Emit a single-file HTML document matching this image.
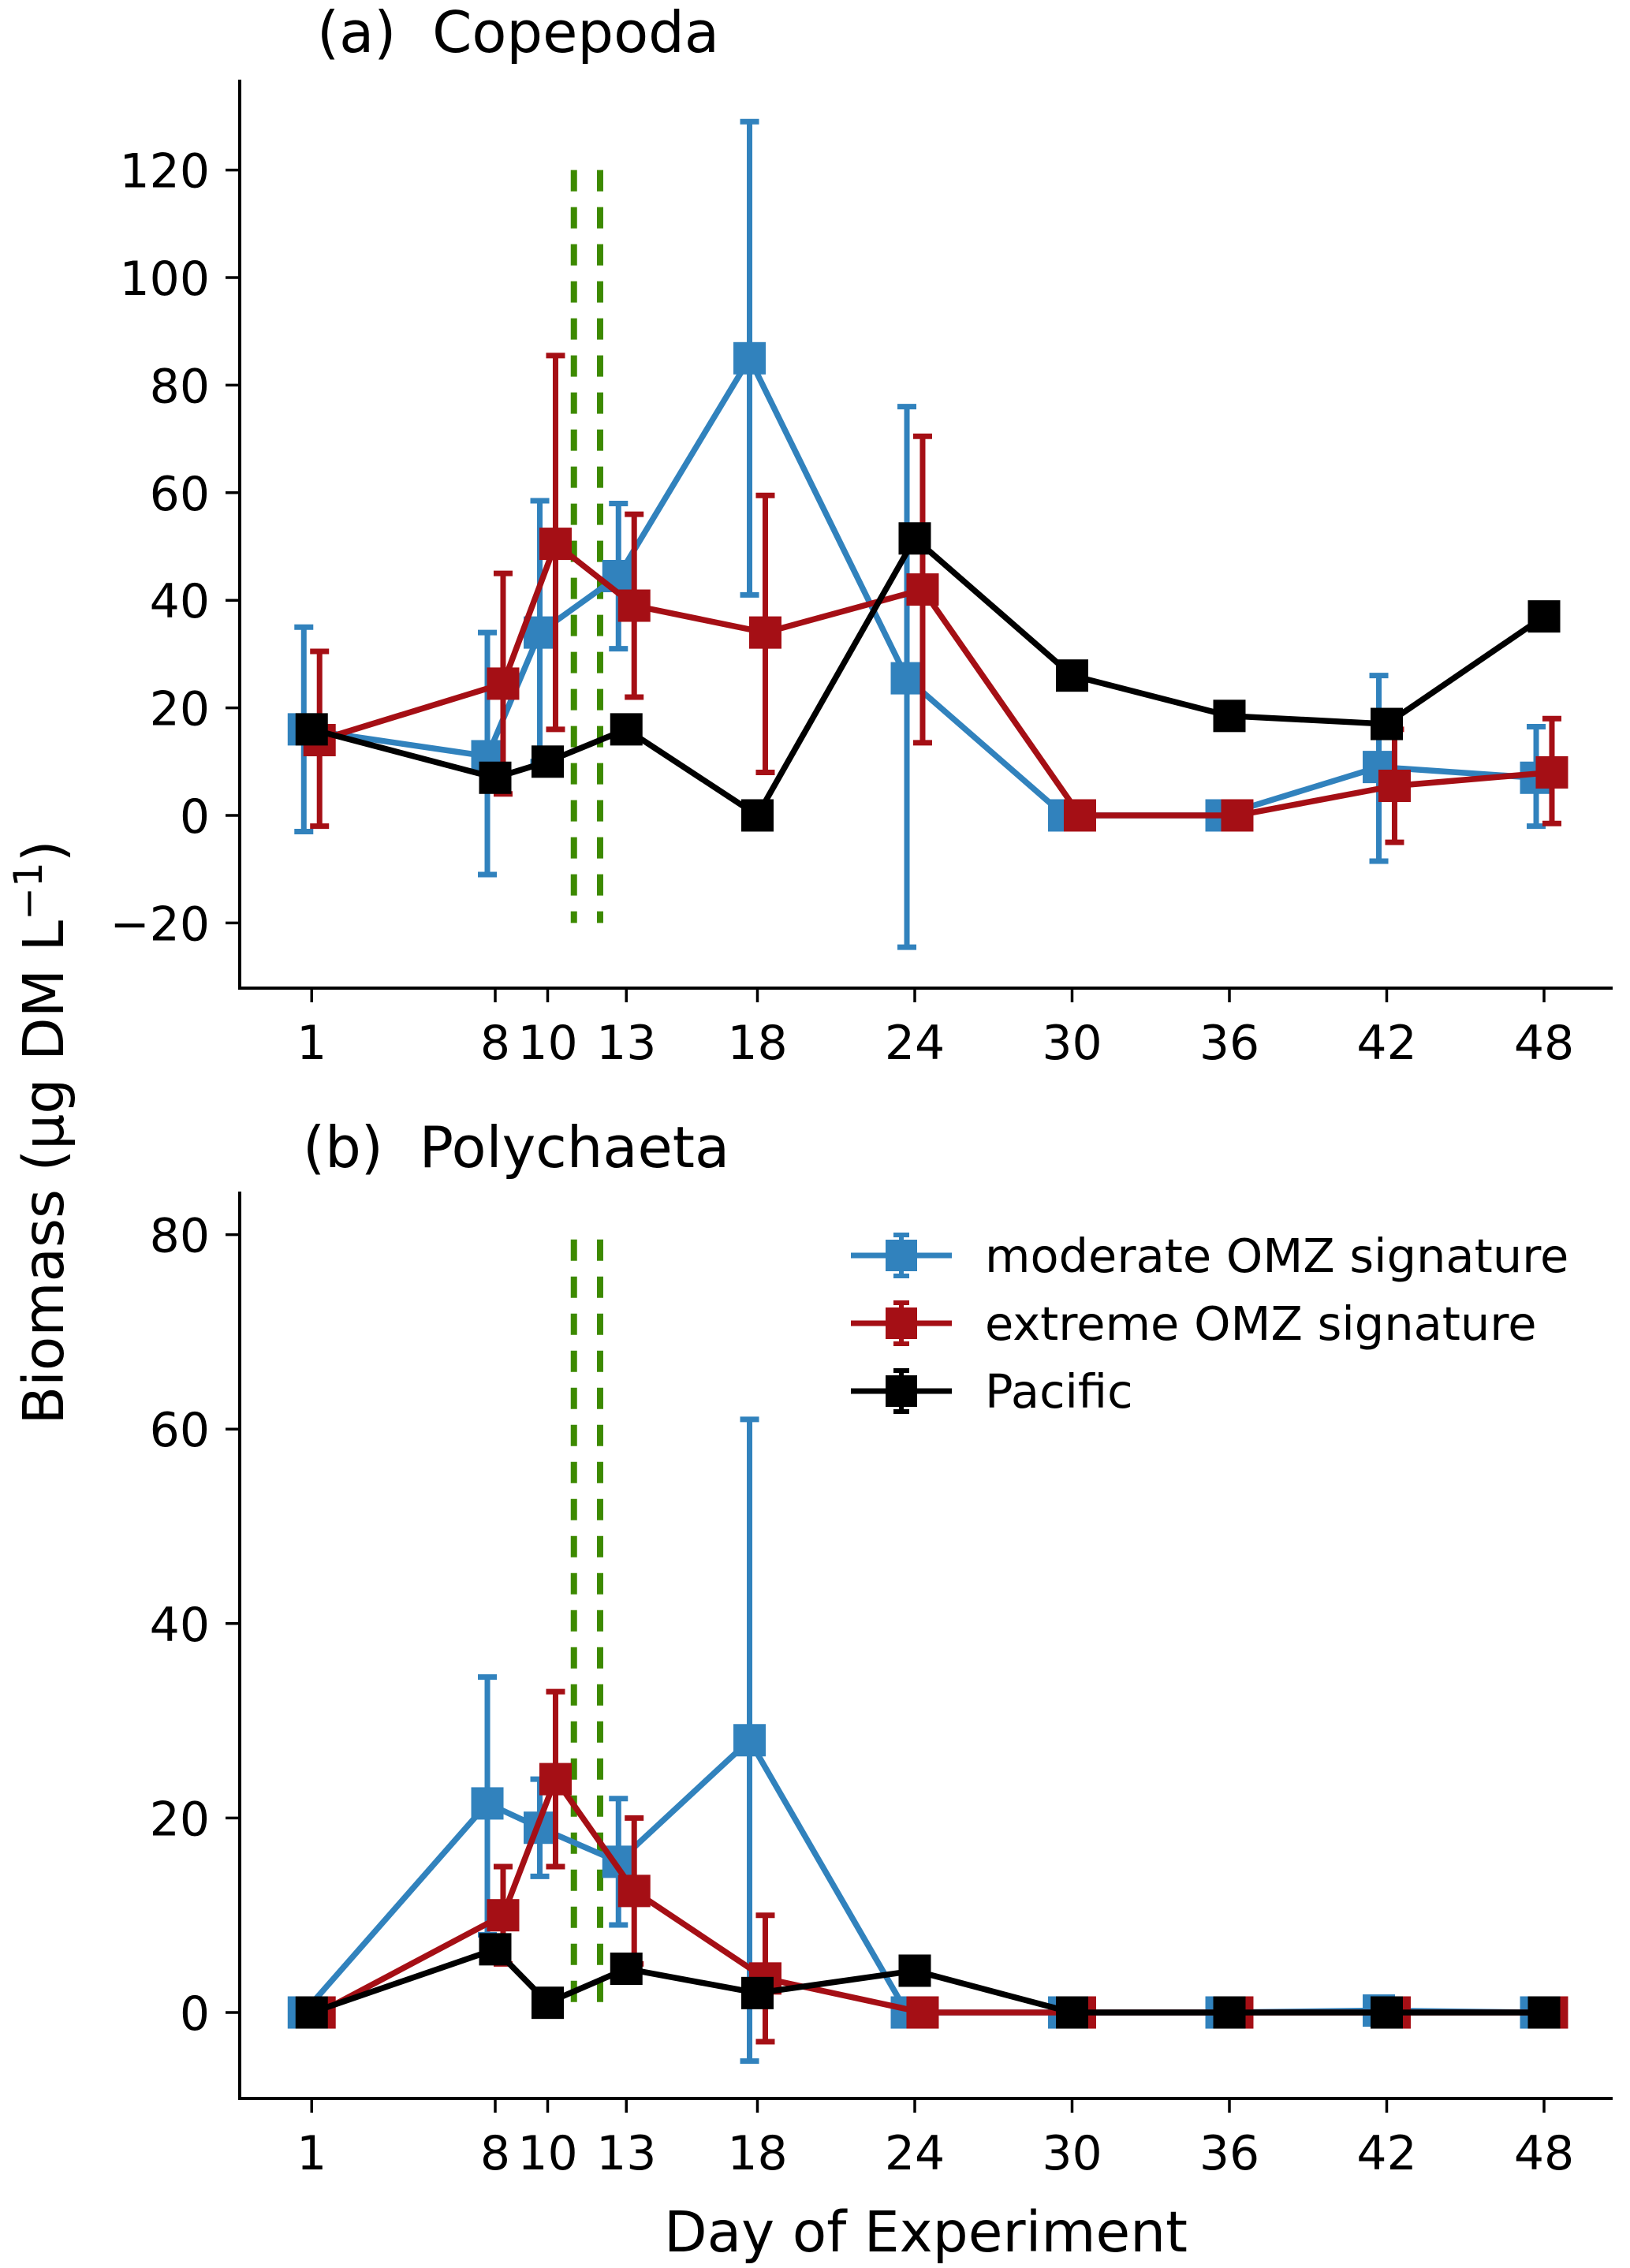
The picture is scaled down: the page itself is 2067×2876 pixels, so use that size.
<!DOCTYPE html>
<html><head><meta charset="utf-8"><style>
body{margin:0;background:#fff}
svg text{font-family:"DejaVu Sans","Liberation Sans",sans-serif;fill:#000}
</style></head><body>
<svg id="chart" width="2067" height="2871" viewBox="0 0 2067 2871" xmlns="http://www.w3.org/2000/svg"></svg>
<script>
const days=[1,8,10,13,18,24,30,36,42,48];
const xTicks=[1,8,10,13,18,24,30,36,42,48];
const eventDays=[11,12];
// Panel a: Copepoda
const aBlue=[16,11,34,44.5,85,25.5,0,0,9,7];
const aBlueLo=[-3,-11,10,31,41,-24.5,0,0,-8.5,-2];
const aBlueHi=[35,34,58.5,58,129,76,0,0,26,16.5];
const aRed=[14,24.5,50.5,39,34,42,0,0,5.5,8];
const aRedLo=[-2,4,16,22,8,13.5,0,0,-5,-1.5];
const aRedHi=[30.5,45,85.5,56,59.5,70.5,0,0,16,18];
const aBlack=[16,7,10,16,0,51.5,26,18.5,17,37];
const aTicks=[-20,0,20,40,60,80,100,120];
// Panel b: Polychaeta
const bBlue=[0,21.5,19,15.5,28,0,0,0,0.2,0];
const bBlueLo=[0,8,14,9,-5,0,0,0,0,0];
const bBlueHi=[0,34.5,24,22,61,0,0,0,0.4,0];
const bRed=[0,10,24,12.5,3.5,0,0,0,0,0];
const bRedLo=[0,5,15,5,-3,0,0,0,0,0];
const bRedHi=[0,15,33,20,10,0,0,0,0,0];
const bBlack=[0,6.5,1,4.5,2,4.3,0,0,0,0];
const bTicks=[0,20,40,60,80];
const legendLabels=["moderate OMZ signature","extreme OMZ signature","Pacific"];

const NS="http://www.w3.org/2000/svg";
const svg=document.getElementById('chart');
const BLUE="#3182bd",RED="#a50f15",GREEN="#3d8a00";
function mk(tag,attrs,parent){const e=document.createElementNS(NS,tag);for(const k in attrs)e.setAttribute(k,attrs[k]);(parent||svg).appendChild(e);return e;}
const xs=d=>362+d*33.25;

function panel(cfg){
  const g=mk('g',{});
  
  
  const ys=v=>cfg.y0-v*cfg.k;
  const sp=mk('path',{d:`M304 ${cfg.top} V${cfg.bottom} H2045`,stroke:'#000','stroke-width':4,fill:'none'},g);
  
  
  cfg.ticks.forEach(t=>{
    mk('line',{x1:286,x2:304,y1:ys(t),y2:ys(t),stroke:'#000','stroke-width':3.5},g);
    const tx=mk('text',{x:266,y:ys(t)+22,'text-anchor':'end','font-size':60},g);
    tx.textContent=t<0?'\u2212'+(-t):t;
    
    
  });
  xTicks.forEach(d=>{
    mk('line',{x1:xs(d),x2:xs(d),y1:cfg.bottom,y2:cfg.bottom+18,stroke:'#000','stroke-width':3.5},g);
    const tx=mk('text',{x:xs(d),y:cfg.bottom+90,'text-anchor':'middle','font-size':60},g);
    tx.textContent=d;
    
    
  });
  eventDays.forEach(d=>{
    const l=mk('line',{x1:xs(d),x2:xs(d),y1:ys(cfg.vTop),y2:ys(cfg.vBot),stroke:GREEN,'stroke-width':8,'stroke-dasharray':'27 20'},g);
    
    
  });
  cfg.series.forEach(s=>{
    const sg=mk('g',{},g);
    
    
    const pts=s.v.map((v,i)=>[xs(days[i]+s.off),ys(v)]);
    if(s.lo){s.v.forEach((v,i)=>{
      const x=pts[i][0],y1=ys(s.lo[i]),y2=ys(s.hi[i]);
      if(Math.abs(y1-y2)<1)return;
      const e=mk('path',{d:`M${x} ${y1}V${y2}M${x-12} ${y1}H${x+12}M${x-12} ${y2}H${x+12}`,stroke:s.c,'stroke-width':7,fill:'none'},sg);
      
      
    });}
    mk('polyline',{points:pts.map(p=>p.join(',')).join(' '),stroke:s.c,'stroke-width':7.5,fill:'none'},sg);
    pts.forEach(p=>{
      const r=mk('rect',{x:p[0]-20.5,y:p[1]-20.5,width:41,height:41,fill:s.c},sg);
      
      
    });
  });
  const t=mk('text',{x:cfg.tx,y:cfg.ty,'font-size':72,'xml:space':'preserve'},g);
  t.textContent=cfg.title;
  
  
}
panel({name:'panel-a-copepoda',top:101,bottom:1253,y0:1034,k:6.82,ticks:aTicks,vTop:120,vBot:-20,tx:402,ty:66,title:'(a)\u00a0\u00a0Copepoda',
  series:[{name:'series-moderate',v:aBlue,lo:aBlueLo,hi:aBlueHi,c:BLUE,off:-0.3},{name:'series-extreme',v:aRed,lo:aRedLo,hi:aRedHi,c:RED,off:0.3},{name:'series-pacific',v:aBlack,c:'#000',off:0}]});
panel({name:'panel-b-polychaeta',top:1511,bottom:2661,y0:2552,k:12.33,ticks:bTicks,vTop:79.5,vBot:0,tx:384,ty:1480,title:'(b)\u00a0\u00a0Polychaeta',
  series:[{name:'series-moderate',v:bBlue,lo:bBlueLo,hi:bBlueHi,c:BLUE,off:-0.3},{name:'series-extreme',v:bRed,lo:bRedLo,hi:bRedHi,c:RED,off:0.3},{name:'series-pacific',v:bBlack,c:'#000',off:0}]});
const lg=mk('g',{});


[BLUE,RED,'#000'].forEach((c,i)=>{
  const y=1592+i*86;
  const e=mk('g',{},lg);
  
  
  mk('line',{x1:1079,x2:1207,y1:y,y2:y,stroke:c,'stroke-width':7},e);
  mk('path',{d:`M1143 ${y-26}V${y+26}M1133 ${y-26}H1153M1133 ${y+26}H1153`,stroke:c,'stroke-width':6,fill:'none'},e);
  mk('rect',{x:1123,y:y-20,width:40,height:40,fill:c},e);
  const t=mk('text',{x:1249,y:y+21,'font-size':59},e);
  t.textContent=legendLabels[i];
});
const yl=mk('text',{x:0,y:0,'font-size':71,'text-anchor':'middle',transform:'translate(80,1436) rotate(-90)'});
yl.innerHTML='Biomass (\u03bcg DM L<tspan dy="-27" font-size="50">\u22121</tspan><tspan dy="27">)</tspan>';


const xl=mk('text',{x:1174,y:2855,'font-size':71,'text-anchor':'middle'});
xl.textContent='Day of Experiment';


</script>
</body></html>
